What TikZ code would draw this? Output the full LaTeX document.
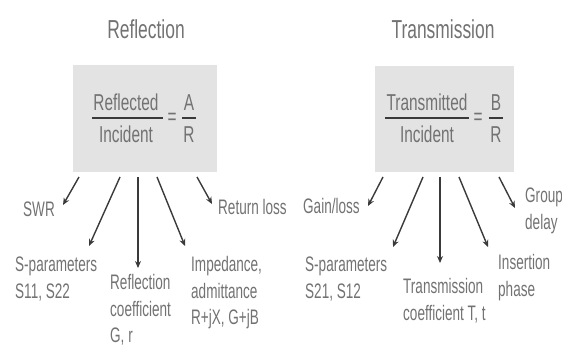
\documentclass[tikz,border=0pt]{standalone}
\usepackage{fontspec}
\setmainfont[FakeStretch=0.67]{Liberation Sans}
\newfontfamily\labfont[FakeStretch=0.645]{Liberation Sans}
\usetikzlibrary{arrows.meta}
\definecolor{txt}{HTML}{727272}
\definecolor{arr}{HTML}{3A3A3A}
\definecolor{boxfill}{HTML}{E3E3E3}
\tikzset{
  title/.style={font=\fontsize{26}{30}\selectfont, text=txt, anchor=base, inner sep=0},
  frac/.style={font=\fontsize{23}{28}\selectfont, text=txt, anchor=base, inner sep=0},
  lab/.style={font=\labfont\fontsize{21}{26.5}\selectfont, text=txt, anchor=base west, inner sep=0},
  eqbox/.style={fill=boxfill, draw=none},
  fracline/.style={line width=1.8pt, arr},
  conn/.style={line width=1.4pt, arr, -{Stealth[length=7pt,width=6pt]}},
}
\newcommand{\ml}[1]{\begin{tabular}[t]{@{}l@{}}#1\end{tabular}}
\begin{document}
\begin{tikzpicture}[x=1pt,y=-1pt]
\useasboundingbox (0,0) rectangle (562,347);
% titles
\node[title] (t1) at (146,39) {Reflection};
\node[title] (t2) at (443,39) {Transmission};
% boxes
\fill[eqbox] (73,65) rectangle (217,172);
\fill[eqbox] (375,66) rectangle (514,172);
% reflection fraction
\node[frac] (rn) at (126,111) {Reflected};
\node[frac] (rd) at (126,143) {Incident};
\draw[fracline] (92,118) -- (163,118);
\node[frac, anchor=center] (req) at (172,119) {=};
\node[frac] (an) at (189,111) {A};
\node[frac] (ad) at (189,143) {R};
\draw[fracline] (182,118) -- (196,118);
% transmission fraction
\node[frac] (tn) at (427,111) {Transmitted};
\node[frac] (td) at (427,143) {Incident};
\draw[fracline] (385,118) -- (469,118);
\node[frac, anchor=center] (teq) at (478,119) {=};
\node[frac] (bn) at (496,111) {B};
\node[frac] (bd) at (496,143) {R};
\draw[fracline] (489,118) -- (503,118);
% reflection labels
\node[lab] (swr) at (23,217) {SWR};
\node[lab] (sp1) at (15,272) {\ml{S-parameters\\S11, S22}};
\node[lab] (rc) at (110,290) {\ml{Reflection\\coefficient\\G, r}};
\node[lab] (imp) at (191,272) {\ml{Impedance,\\admittance\\R+jX, G+jB}};
\node[lab] (rl) at (218,215) {Return loss};
% transmission labels
\node[lab] (gl) at (303,214) {Gain/loss};
\node[lab] (sp2) at (305,272) {\ml{S-parameters\\S21, S12}};
\node[lab] (tc) at (403,294) {\ml{Transmission\\coefficient T, t}};
\node[lab] (ip) at (498,270) {\ml{Insertion\\phase}};
\node[lab] (gd) at (525,203) {\ml{Group\\delay}};
% arrow coordinates
\coordinate (r1s) at (79,177);  \coordinate (r1e) at (63,205);
\coordinate (r2s) at (120,177); \coordinate (r2e) at (89,246);
\coordinate (r3s) at (138,177); \coordinate (r3e) at (138,268);
\coordinate (r4s) at (157,177); \coordinate (r4e) at (185,246);
\coordinate (r5s) at (197,177); \coordinate (r5e) at (212,204);
\coordinate (s1s) at (383,177); \coordinate (s1e) at (368,206);
\coordinate (s2s) at (423,177); \coordinate (s2e) at (393,247);
\coordinate (s3s) at (440,177); \coordinate (s3e) at (440,263);
\coordinate (s4s) at (459,177); \coordinate (s4e) at (488,247);
\coordinate (s5s) at (499,177); \coordinate (s5e) at (515,208);
\foreach \a in {r1,r2,r3,r4,r5,s1,s2,s3,s4,s5}
  \draw[conn] (\a s) -- (\a e);
\end{tikzpicture}
\end{document}
